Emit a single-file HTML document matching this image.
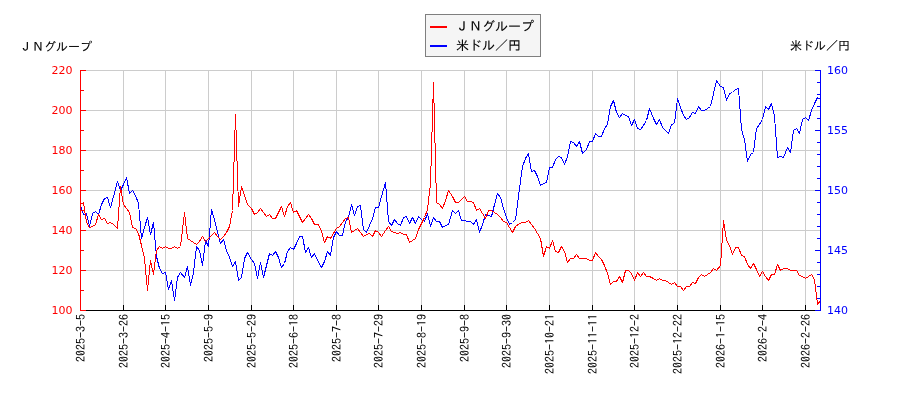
<!DOCTYPE html>
<html lang="ja"><head><meta charset="utf-8"><title>ＪＮグループ / 米ドル／円</title>
<style>html,body{margin:0;padding:0;background:#fff}body{width:900px;height:400px;overflow:hidden}svg{display:block;will-change:transform}.jp{font-family:"Liberation Sans","IPAGothic","Noto Sans CJK JP",sans-serif;stroke:#000;stroke-width:0.1px}.num{font-family:"DejaVu Sans","Liberation Sans",sans-serif;font-size:11px}.xl{font-family:"IPAGothic","Liberation Mono","Noto Sans CJK JP",monospace;font-size:12px;fill:#000}</style></head><body>
<svg width="900" height="400" viewBox="0 0 900 400">
<rect width="900" height="400" fill="#fff"/>
<g stroke="#cccccc" stroke-width="1" shape-rendering="crispEdges">
<line x1="81" y1="70.5" x2="820" y2="70.5"/>
<line x1="81" y1="110.5" x2="820" y2="110.5"/>
<line x1="81" y1="150.5" x2="820" y2="150.5"/>
<line x1="81" y1="190.5" x2="820" y2="190.5"/>
<line x1="81" y1="230.5" x2="820" y2="230.5"/>
<line x1="81" y1="270.5" x2="820" y2="270.5"/>
<line x1="123.5" y1="70" x2="123.5" y2="310"/>
<line x1="165.5" y1="70" x2="165.5" y2="310"/>
<line x1="208.5" y1="70" x2="208.5" y2="310"/>
<line x1="251.5" y1="70" x2="251.5" y2="310"/>
<line x1="293.5" y1="70" x2="293.5" y2="310"/>
<line x1="336.5" y1="70" x2="336.5" y2="310"/>
<line x1="378.5" y1="70" x2="378.5" y2="310"/>
<line x1="421.5" y1="70" x2="421.5" y2="310"/>
<line x1="464.5" y1="70" x2="464.5" y2="310"/>
<line x1="506.5" y1="70" x2="506.5" y2="310"/>
<line x1="549.5" y1="70" x2="549.5" y2="310"/>
<line x1="592.5" y1="70" x2="592.5" y2="310"/>
<line x1="634.5" y1="70" x2="634.5" y2="310"/>
<line x1="677.5" y1="70" x2="677.5" y2="310"/>
<line x1="720.5" y1="70" x2="720.5" y2="310"/>
<line x1="762.5" y1="70" x2="762.5" y2="310"/>
<line x1="805.5" y1="70" x2="805.5" y2="310"/>
</g>
<polyline points="80.5,205.5 83.5,214.5 86.5,213.5 89.5,226.5 92.5,213.5 95.5,211.5 98.5,214.5 101.5,204.5 104.5,198.5 107.5,197.5 110.5,207.5 113.5,196.5 117.5,181.5 120.5,190.5 123.5,184.5 126.5,177.5 129.5,193.5 132.5,190.5 135.5,195.5 138.5,203.5 141.5,238.5 144.5,227.5 147.5,217.5 150.5,234.5 153.5,222.5 156.5,256.5 159.5,268.5 162.5,273.5 165.5,272.5 168.5,289.5 171.5,280.5 174.5,300.5 177.5,277.5 180.5,272.5 184.5,277.5 187.5,266.5 190.5,285.5 193.5,272.5 196.5,246.5 199.5,250.5 202.5,265.5 205.5,240.5 208.5,246.5 211.5,209.5 214.5,219.5 217.5,232.5 220.5,243.5 223.5,239.5 226.5,250.5 229.5,257.5 232.5,266.5 235.5,261.5 238.5,280.5 241.5,277.5 244.5,258.5 247.5,252.5 251.5,259.5 254.5,263.5 257.5,278.5 260.5,262.5 263.5,277.5 266.5,265.5 269.5,253.5 272.5,255.5 275.5,251.5 278.5,257.5 281.5,267.5 284.5,263.5 287.5,251.5 290.5,247.5 293.5,249.5 296.5,243.5 299.5,236.5 302.5,236.5 305.5,252.5 308.5,247.5 311.5,257.5 314.5,253.5 318.5,262.5 321.5,267.5 324.5,261.5 327.5,251.5 330.5,255.5 333.5,237.5 336.5,231.5 339.5,235.5 342.5,235.5 345.5,221.5 348.5,217.5 351.5,204.5 354.5,215.5 357.5,206.5 360.5,205.5 363.5,229.5 366.5,232.5 369.5,225.5 372.5,218.5 375.5,207.5 378.5,207.5 381.5,196.5 385.5,182.5 388.5,221.5 391.5,225.5 394.5,219.5 397.5,223.5 400.5,225.5 403.5,217.5 406.5,216.5 409.5,223.5 412.5,217.5 415.5,223.5 418.5,216.5 421.5,219.5 424.5,221.5 427.5,213.5 430.5,226.5 433.5,217.5 436.5,221.5 439.5,221.5 442.5,227.5 445.5,225.5 448.5,224.5 452.5,210.5 455.5,213.5 458.5,210.5 461.5,220.5 464.5,220.5 467.5,221.5 470.5,221.5 473.5,224.5 476.5,219.5 479.5,232.5 482.5,224.5 485.5,214.5 488.5,215.5 491.5,216.5 494.5,204.5 497.5,193.5 500.5,197.5 503.5,208.5 506.5,217.5 509.5,224.5 512.5,222.5 515.5,219.5 519.5,188.5 522.5,166.5 525.5,158.5 528.5,153.5 531.5,171.5 534.5,170.5 537.5,176.5 540.5,185.5 543.5,183.5 546.5,182.5 549.5,167.5 552.5,167.5 555.5,159.5 558.5,156.5 561.5,157.5 564.5,164.5 567.5,156.5 570.5,141.5 573.5,142.5 576.5,146.5 579.5,141.5 582.5,153.5 586.5,149.5 589.5,141.5 592.5,141.5 595.5,133.5 598.5,136.5 601.5,136.5 604.5,128.5 607.5,124.5 610.5,106.5 613.5,100.5 616.5,112.5 619.5,117.5 622.5,113.5 625.5,115.5 628.5,116.5 631.5,125.5 634.5,119.5 637.5,128.5 640.5,129.5 643.5,125.5 646.5,120.5 649.5,108.5 653.5,118.5 656.5,124.5 659.5,119.5 662.5,127.5 665.5,130.5 668.5,133.5 671.5,124.5 674.5,123.5 677.5,98.5 680.5,107.5 683.5,115.5 686.5,119.5 689.5,117.5 692.5,112.5 695.5,113.5 698.5,106.5 701.5,110.5 704.5,110.5 707.5,108.5 710.5,106.5 713.5,93.5 716.5,80.5 720.5,86.5 723.5,87.5 726.5,100.5 729.5,93.5 732.5,92.5 735.5,89.5 738.5,88.5 741.5,129.5 744.5,139.5 747.5,161.5 750.5,154.5 753.5,152.5 756.5,128.5 759.5,124.5 762.5,119.5 765.5,106.5 768.5,109.5 771.5,103.5 774.5,116.5 777.5,157.5 780.5,156.5 783.5,157.5 787.5,147.5 790.5,152.5 793.5,130.5 796.5,128.5 799.5,133.5 802.5,119.5 805.5,117.5 808.5,120.5 811.5,110.5 814.5,103.5 817.5,97.5 820.5,99.5" fill="none" stroke="#0000ff" stroke-width="1" stroke-linejoin="bevel" shape-rendering="crispEdges"/>
<polyline points="80.5,204.5 83.5,202.5 86.5,222.5 89.5,227.5 92.5,226.5 95.5,224.5 98.5,214.5 101.5,219.5 104.5,218.5 107.5,223.5 110.5,222.5 113.5,224.5 117.5,228.5 120.5,186.5 123.5,204.5 126.5,208.5 129.5,212.5 132.5,227.5 135.5,228.5 138.5,233.5 141.5,245.5 144.5,258.5 147.5,290.5 150.5,260.5 153.5,274.5 156.5,250.5 159.5,246.5 162.5,248.5 165.5,246.5 168.5,248.5 171.5,248.5 174.5,246.5 177.5,248.5 180.5,246.5 184.5,212.5 187.5,238.5 190.5,240.5 193.5,242.5 196.5,244.5 199.5,241.5 202.5,236.5 205.5,241.5 208.5,238.5 211.5,235.5 214.5,232.5 217.5,236.5 220.5,239.5 223.5,236.5 226.5,232.5 229.5,226.5 232.5,210.5 235.5,114.5 238.5,206.5 241.5,186.5 244.5,195.5 247.5,204.5 251.5,208.5 254.5,214.5 257.5,212.5 260.5,208.5 263.5,212.5 266.5,216.5 269.5,214.5 272.5,218.5 275.5,218.5 278.5,212.5 281.5,206.5 284.5,216.5 287.5,206.5 290.5,202.5 293.5,212.5 296.5,210.5 299.5,216.5 302.5,222.5 305.5,218.5 308.5,214.5 311.5,218.5 314.5,224.5 318.5,224.5 321.5,231.5 324.5,242.5 327.5,236.5 330.5,238.5 333.5,233.5 336.5,228.5 339.5,226.5 342.5,222.5 345.5,218.5 348.5,217.5 351.5,232.5 354.5,230.5 357.5,228.5 360.5,232.5 363.5,236.5 366.5,234.5 369.5,233.5 372.5,236.5 375.5,230.5 378.5,232.5 381.5,236.5 385.5,230.5 388.5,226.5 391.5,231.5 394.5,232.5 397.5,233.5 400.5,232.5 403.5,234.5 406.5,234.5 409.5,242.5 412.5,240.5 415.5,238.5 418.5,229.5 421.5,223.5 424.5,217.5 427.5,209.5 430.5,183.5 433.5,82.5 436.5,202.5 439.5,204.5 442.5,208.5 445.5,200.5 448.5,190.5 452.5,196.5 455.5,202.5 458.5,202.5 461.5,199.5 464.5,196.5 467.5,201.5 470.5,201.5 473.5,202.5 476.5,210.5 479.5,208.5 482.5,213.5 485.5,218.5 488.5,210.5 491.5,210.5 494.5,212.5 497.5,214.5 500.5,217.5 503.5,221.5 506.5,222.5 509.5,227.5 512.5,232.5 515.5,226.5 519.5,223.5 522.5,222.5 525.5,222.5 528.5,220.5 531.5,224.5 534.5,228.5 537.5,233.5 540.5,238.5 543.5,256.5 546.5,246.5 549.5,248.5 552.5,240.5 555.5,251.5 558.5,252.5 561.5,246.5 564.5,251.5 567.5,262.5 570.5,258.5 573.5,258.5 576.5,254.5 579.5,258.5 582.5,258.5 586.5,258.5 589.5,260.5 592.5,260.5 595.5,252.5 598.5,256.5 601.5,259.5 604.5,265.5 607.5,273.5 610.5,284.5 613.5,281.5 616.5,281.5 619.5,276.5 622.5,282.5 625.5,270.5 628.5,270.5 631.5,273.5 634.5,280.5 637.5,272.5 640.5,276.5 643.5,272.5 646.5,276.5 649.5,276.5 653.5,278.5 656.5,280.5 659.5,278.5 662.5,280.5 665.5,280.5 668.5,282.5 671.5,284.5 674.5,282.5 677.5,286.5 680.5,286.5 683.5,290.5 686.5,286.5 689.5,286.5 692.5,282.5 695.5,283.5 698.5,277.5 701.5,274.5 704.5,276.5 707.5,274.5 710.5,272.5 713.5,268.5 716.5,270.5 720.5,265.5 723.5,220.5 726.5,240.5 729.5,245.5 732.5,254.5 735.5,247.5 738.5,247.5 741.5,255.5 744.5,256.5 747.5,264.5 750.5,268.5 753.5,263.5 756.5,269.5 759.5,276.5 762.5,271.5 765.5,276.5 768.5,280.5 771.5,274.5 774.5,274.5 777.5,264.5 780.5,270.5 783.5,268.5 787.5,268.5 790.5,270.5 793.5,270.5 796.5,270.5 799.5,275.5 802.5,276.5 805.5,278.5 808.5,276.5 811.5,274.5 814.5,279.5 817.5,304.5 820.5,300.5" fill="none" stroke="#ff0000" stroke-width="1" stroke-linejoin="bevel" shape-rendering="crispEdges"/>
<g stroke="#000" stroke-width="1" shape-rendering="crispEdges">
<line x1="80" y1="310.5" x2="821" y2="310.5"/>
<line x1="80.5" y1="305" x2="80.5" y2="311"/>
<line x1="123.5" y1="305" x2="123.5" y2="311"/>
<line x1="165.5" y1="305" x2="165.5" y2="311"/>
<line x1="208.5" y1="305" x2="208.5" y2="311"/>
<line x1="251.5" y1="305" x2="251.5" y2="311"/>
<line x1="293.5" y1="305" x2="293.5" y2="311"/>
<line x1="336.5" y1="305" x2="336.5" y2="311"/>
<line x1="378.5" y1="305" x2="378.5" y2="311"/>
<line x1="421.5" y1="305" x2="421.5" y2="311"/>
<line x1="464.5" y1="305" x2="464.5" y2="311"/>
<line x1="506.5" y1="305" x2="506.5" y2="311"/>
<line x1="549.5" y1="305" x2="549.5" y2="311"/>
<line x1="592.5" y1="305" x2="592.5" y2="311"/>
<line x1="634.5" y1="305" x2="634.5" y2="311"/>
<line x1="677.5" y1="305" x2="677.5" y2="311"/>
<line x1="720.5" y1="305" x2="720.5" y2="311"/>
<line x1="762.5" y1="305" x2="762.5" y2="311"/>
<line x1="805.5" y1="305" x2="805.5" y2="311"/>
</g>
<g stroke="#ff0000" stroke-width="1" shape-rendering="crispEdges">
<line x1="80.5" y1="70" x2="80.5" y2="311"/>
<line x1="80" y1="70.5" x2="86" y2="70.5"/>
<line x1="80" y1="90.5" x2="84" y2="90.5"/>
<line x1="80" y1="110.5" x2="86" y2="110.5"/>
<line x1="80" y1="130.5" x2="84" y2="130.5"/>
<line x1="80" y1="150.5" x2="86" y2="150.5"/>
<line x1="80" y1="170.5" x2="84" y2="170.5"/>
<line x1="80" y1="190.5" x2="86" y2="190.5"/>
<line x1="80" y1="210.5" x2="84" y2="210.5"/>
<line x1="80" y1="230.5" x2="86" y2="230.5"/>
<line x1="80" y1="250.5" x2="84" y2="250.5"/>
<line x1="80" y1="270.5" x2="86" y2="270.5"/>
<line x1="80" y1="290.5" x2="84" y2="290.5"/>
<line x1="80" y1="310.5" x2="86" y2="310.5"/>
<line x1="80" y1="310.5" x2="86" y2="310.5"/>
</g>
<g stroke="#0000ff" stroke-width="1" shape-rendering="crispEdges">
<line x1="820.5" y1="70" x2="820.5" y2="311"/>
<line x1="815" y1="70.5" x2="821" y2="70.5"/>
<line x1="817" y1="82.5" x2="821" y2="82.5"/>
<line x1="817" y1="94.5" x2="821" y2="94.5"/>
<line x1="817" y1="106.5" x2="821" y2="106.5"/>
<line x1="817" y1="118.5" x2="821" y2="118.5"/>
<line x1="815" y1="130.5" x2="821" y2="130.5"/>
<line x1="817" y1="142.5" x2="821" y2="142.5"/>
<line x1="817" y1="154.5" x2="821" y2="154.5"/>
<line x1="817" y1="166.5" x2="821" y2="166.5"/>
<line x1="817" y1="178.5" x2="821" y2="178.5"/>
<line x1="815" y1="190.5" x2="821" y2="190.5"/>
<line x1="817" y1="202.5" x2="821" y2="202.5"/>
<line x1="817" y1="214.5" x2="821" y2="214.5"/>
<line x1="817" y1="226.5" x2="821" y2="226.5"/>
<line x1="817" y1="238.5" x2="821" y2="238.5"/>
<line x1="815" y1="250.5" x2="821" y2="250.5"/>
<line x1="817" y1="262.5" x2="821" y2="262.5"/>
<line x1="817" y1="274.5" x2="821" y2="274.5"/>
<line x1="817" y1="286.5" x2="821" y2="286.5"/>
<line x1="817" y1="298.5" x2="821" y2="298.5"/>
<line x1="815" y1="310.5" x2="821" y2="310.5"/>
</g>
<text class="num" x="72.4" y="73.5" text-anchor="end" fill="#ff0000">220</text>
<text class="num" x="72.4" y="113.5" text-anchor="end" fill="#ff0000">200</text>
<text class="num" x="72.4" y="153.5" text-anchor="end" fill="#ff0000">180</text>
<text class="num" x="72.4" y="193.5" text-anchor="end" fill="#ff0000">160</text>
<text class="num" x="72.4" y="233.5" text-anchor="end" fill="#ff0000">140</text>
<text class="num" x="72.4" y="273.5" text-anchor="end" fill="#ff0000">120</text>
<text class="num" x="72.4" y="313.5" text-anchor="end" fill="#ff0000">100</text>
<text class="num" x="827" y="73.5" fill="#0000ff">160</text>
<text class="num" x="827" y="133.5" fill="#0000ff">155</text>
<text class="num" x="827" y="193.5" fill="#0000ff">150</text>
<text class="num" x="827" y="253.5" fill="#0000ff">145</text>
<text class="num" x="827" y="313.5" fill="#0000ff">140</text>
<text class="xl" transform="translate(84.5,314) rotate(-90)" text-anchor="end">2025-3-5</text>
<text class="xl" transform="translate(127.5,314) rotate(-90)" text-anchor="end">2025-3-26</text>
<text class="xl" transform="translate(169.5,314) rotate(-90)" text-anchor="end">2025-4-15</text>
<text class="xl" transform="translate(212.5,314) rotate(-90)" text-anchor="end">2025-5-9</text>
<text class="xl" transform="translate(255.5,314) rotate(-90)" text-anchor="end">2025-5-29</text>
<text class="xl" transform="translate(297.5,314) rotate(-90)" text-anchor="end">2025-6-18</text>
<text class="xl" transform="translate(340.5,314) rotate(-90)" text-anchor="end">2025-7-8</text>
<text class="xl" transform="translate(382.5,314) rotate(-90)" text-anchor="end">2025-7-29</text>
<text class="xl" transform="translate(425.5,314) rotate(-90)" text-anchor="end">2025-8-19</text>
<text class="xl" transform="translate(468.5,314) rotate(-90)" text-anchor="end">2025-9-8</text>
<text class="xl" transform="translate(510.5,314) rotate(-90)" text-anchor="end">2025-9-30</text>
<text class="xl" transform="translate(553.5,314) rotate(-90)" text-anchor="end">2025-10-21</text>
<text class="xl" transform="translate(596.5,314) rotate(-90)" text-anchor="end">2025-11-11</text>
<text class="xl" transform="translate(638.5,314) rotate(-90)" text-anchor="end">2025-12-2</text>
<text class="xl" transform="translate(681.5,314) rotate(-90)" text-anchor="end">2025-12-22</text>
<text class="xl" transform="translate(724.5,314) rotate(-90)" text-anchor="end">2026-1-15</text>
<text class="xl" transform="translate(766.5,314) rotate(-90)" text-anchor="end">2026-2-4</text>
<text class="xl" transform="translate(809.5,314) rotate(-90)" text-anchor="end">2026-2-26</text>
<text class="jp" x="20" y="51" font-size="12" fill="#000">ＪＮグループ</text>
<text class="jp" x="850" y="50" font-size="12" fill="#000" text-anchor="end">米ドル／円</text>
<rect x="425.5" y="14.5" width="115" height="42" fill="#f5f5f5" stroke="#7f7f7f" stroke-width="1" shape-rendering="crispEdges"/>
<line x1="430" y1="27" x2="447" y2="27" stroke="#ff0000" stroke-width="2" shape-rendering="crispEdges"/>
<line x1="430" y1="46" x2="447" y2="46" stroke="#0000ff" stroke-width="2" shape-rendering="crispEdges"/>
<text class="jp" x="456" y="31" font-size="13" fill="#000">ＪＮグループ</text>
<text class="jp" x="456" y="50" font-size="13" fill="#000">米ドル／円</text>
</svg></body></html>
